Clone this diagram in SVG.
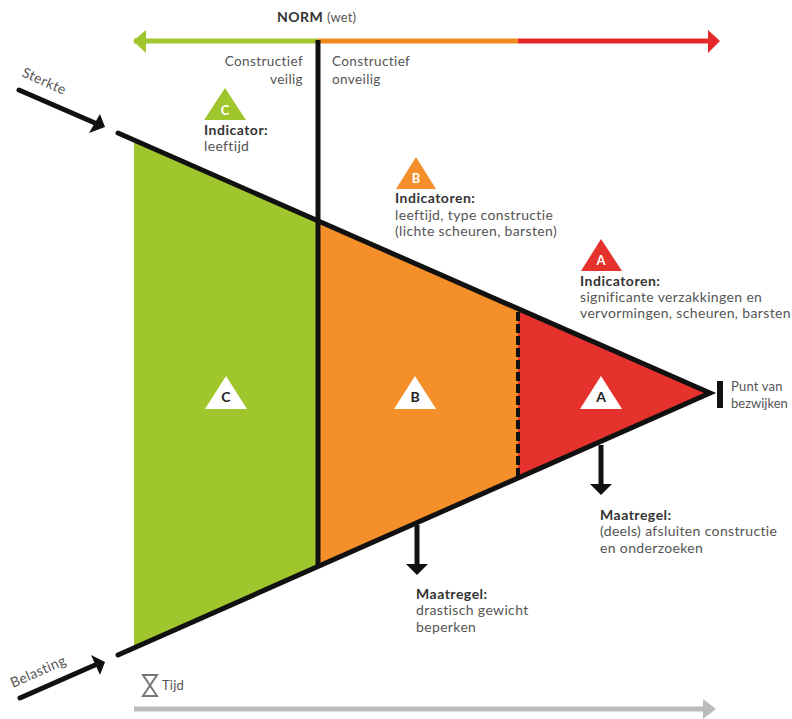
<svg xmlns="http://www.w3.org/2000/svg" width="792" height="719" viewBox="0 0 792 719">
<style>
text{font-family:Lato,"Open Sans","Liberation Sans",sans-serif;font-size:14px;letter-spacing:.35px;fill:#555}
.b{font-weight:700;fill:#333;letter-spacing:.5px}
.w{font-weight:700;fill:#fff;font-size:13px;text-anchor:middle;letter-spacing:0}
.k{font-weight:700;fill:#222;font-size:14px;text-anchor:middle;letter-spacing:0}
.s{font-size:13px;letter-spacing:.2px}
.c{font-size:13.6px}
.ln{fill:none;stroke:#111;stroke-width:5}
</style>
<rect width="792" height="719" fill="#fff"/>
<g id="connectors">
<path d="M318 41H134" stroke="#a0c62d" stroke-width="5" fill="none"/><polygon points="146,30 133,41 146,53" fill="#a0c62d"/>
<path d="M318 41H518" stroke="#f08a1d" stroke-width="5" fill="none"/>
<path d="M518 41H710" stroke="#e5282a" stroke-width="5" fill="none"/><polygon points="708,30 720,41 708,53" fill="#e5282a"/>
</g>
<g id="zone-c"><polygon points="134,140 318,221 318,566 134,648" fill="#a0c62d"/><polygon points="205,409 226,376 247,409" fill="#fff"/><text class="k" x="226" y="402">C</text></g>
<g id="zone-b"><polygon points="318,221 518,309 518,477 318,566" fill="#f58f2a"/><polygon points="394,409 415,376 436,409" fill="#fff"/><text class="k" x="415" y="402">B</text></g>
<g id="zone-a"><polygon points="518,309 710,393 518,477" fill="#e5322d"/><polygon points="580,409 601,376 622,409" fill="#fff"/><text class="k" x="601" y="402">A</text></g>
<g id="lines">
<path class="ln" d="M318 40V566"/>
<path class="ln" stroke-linecap="round" d="M118 133L710 393L118 655"/>
<path d="M518 312V477" fill="none" stroke="#111" stroke-width="4" stroke-dasharray="9 3"/>
<path d="M720 381V408" fill="none" stroke="#111" stroke-width="6"/>
<path class="ln" stroke-linecap="round" d="M19 90L95 123"/><polygon points="105,127 89,133 100,114" fill="#111"/>
<path class="ln" stroke-linecap="round" d="M20 698L95 665"/><polygon points="105,662 91,655 100,675" fill="#111"/>
<path class="ln" d="M601 445V487"/><polygon points="590,484 612,484 601,495" fill="#111"/>
<path class="ln" d="M417 525V567"/><polygon points="406,564 428,564 417,575" fill="#111"/>
<path d="M134 709H706" stroke="#bbb" stroke-width="5" fill="none"/><polygon points="703,699 716,709 703,719" fill="#bbb"/>
</g>
<g id="norm"><text x="277" y="22" class="b">NORM</text><text x="327" y="22" class="s">(wet)</text></g>
<g id="veilig"><text class="c" x="303" y="66" text-anchor="end">Constructief</text><text class="c" x="303" y="84" text-anchor="end">veilig</text></g>
<g id="onveilig"><text class="c" x="332" y="66">Constructief</text><text class="c" x="332" y="84">onveilig</text></g>
<g id="sterkte"><text transform="translate(21 76) rotate(24)">Sterkte</text></g>
<g id="belasting"><text transform="translate(13 688) rotate(-24)">Belasting</text></g>
<g id="ind-c"><polygon points="204,120 225,88 246,120" fill="#a0c62d"/><text class="w" x="225" y="115">C</text><text class="b" x="204" y="135">Indicator:</text><text x="204" y="151">leeftijd</text></g>
<g id="ind-b"><polygon points="396,189 416,157 436,189" fill="#f58f2a"/><text class="w" x="416" y="183">B</text><text class="b" x="395" y="203">Indicatoren:</text><text x="395" y="220">leeftijd, type constructie</text><text x="395" y="236">(lichte scheuren, barsten)</text></g>
<g id="ind-a"><polygon points="581,271 601,239 622,271" fill="#e5322d"/><text class="w" x="601" y="265">A</text><text class="b" x="580" y="286">Indicatoren:</text><text x="580" y="302">significante verzakkingen en</text><text x="580" y="318">vervormingen, scheuren, barsten</text></g>
<g id="punt"><text class="s" x="731" y="391">Punt van</text><text class="s" x="731" y="408" style="letter-spacing:0">bezwijken</text></g>
<g id="maatregel-a"><text class="b" x="600" y="520">Maatregel:</text><text x="600" y="536">(deels) afsluiten constructie</text><text x="600" y="553">en onderzoeken</text></g>
<g id="maatregel-b"><text class="b" x="416" y="599">Maatregel:</text><text x="416" y="615">drastisch gewicht</text><text x="416" y="632">beperken</text></g>
<g id="tijd"><path d="M143 675H157L143 696H157Z" fill="none" stroke="#777" stroke-width="2"/><text class="s" x="162" y="690">Tijd</text></g>
</svg>
